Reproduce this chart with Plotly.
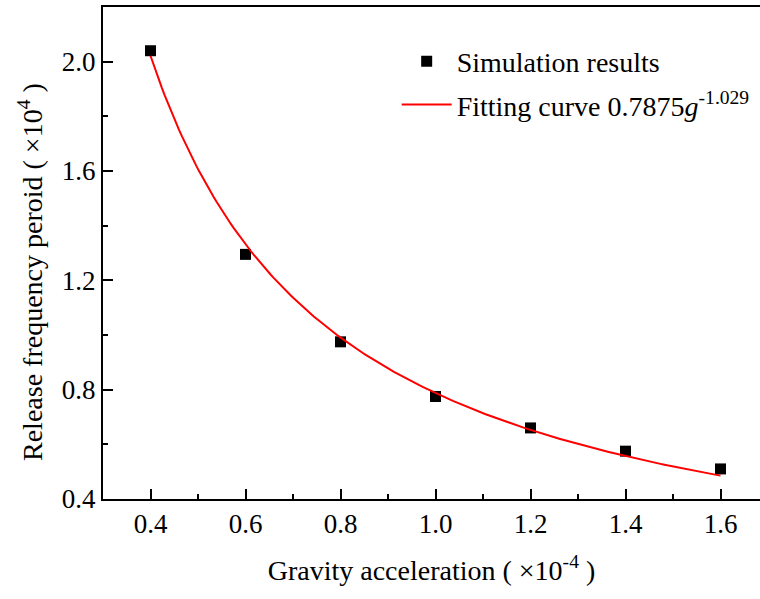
import numpy as np
import plotly.graph_objects as go

gravity = [0.4, 0.6, 0.8, 1.0, 1.2, 1.4, 1.6]
period = [2.04, 1.295, 0.975, 0.775, 0.66, 0.575, 0.51]
fit_coef = 0.7875
fit_exp = -1.029

g_fit = np.linspace(0.4, 1.6, 200)
p_fit = fit_coef * g_fit ** fit_exp

FONT = "Liberation Serif, Times New Roman, serif"
TICK_FS = 27
XT_FS = 28
YT_FS = 28
LEG_FS = 28

fig = go.Figure()
fig.add_trace(go.Scatter(
    x=gravity, y=period, mode="markers", name="Simulation results",
    marker=dict(symbol="square", size=11, color="black"),
    legendgroup="a",
))
fig.add_trace(go.Scatter(
    x=g_fit, y=p_fit, mode="lines",
    name="Fitting curve 0.7875<i>g</i><sup>-1.029</sup>",
    line=dict(color="#ff0000", width=2),
    legendgroup="b",
))

axis_common = dict(
    showline=True, linecolor="black", linewidth=2,
    ticks="inside", ticklen=10, tickwidth=2, tickcolor="black",
    showgrid=False, zeroline=False,
    tickfont=dict(family=FONT, size=TICK_FS, color="black"),
)

fig.update_layout(
    width=760, height=599,
    margin=dict(l=103, r=0, t=7, b=100),
    paper_bgcolor="white", plot_bgcolor="white",
    font=dict(family=FONT, size=TICK_FS, color="black"),
    xaxis=dict(
        range=[0.3, 0.3 + 657 / 475], tickvals=[0.4, 0.6, 0.8, 1.0, 1.2, 1.4, 1.6],
        ticktext=["0.4", "0.6", "0.8", "1.0", "1.2", "1.4", "1.6"],
        mirror=True,
        minor=dict(ticks="inside", ticklen=5, tickwidth=2, tickcolor="black",
                   tickvals=[0.5, 0.7, 0.9, 1.1, 1.3, 1.5]),
        title=dict(text="Gravity acceleration ( ×10<sup>-4</sup> )",
                   font=dict(family=FONT, size=XT_FS), standoff=22),
        **axis_common,
    ),
    yaxis=dict(
        range=[0.4, 2.2], tickvals=[0.4, 0.8, 1.2, 1.6, 2.0],
        ticktext=["0.4", "0.8", "1.2", "1.6", "2.0"],
        mirror=False,
        minor=dict(ticks="inside", ticklen=5, tickwidth=2, tickcolor="black",
                   tickvals=[0.6, 1.0, 1.4, 1.8, 2.2]),
        **axis_common,
    ),
    annotations=[dict(
        text="Release frequency peroid ( ×10<sup>4</sup> )",
        xref="paper", yref="paper", x=(30 - 103) / 657, y=1 - (272 - 7) / 492,
        xanchor="center", yanchor="middle", textangle=-90, showarrow=False,
        font=dict(family=FONT, size=YT_FS, color="black"),
    )],
    legend=dict(
        x=0.447, y=0.94, xanchor="left", yanchor="top",
        bgcolor="rgba(0,0,0,0)", borderwidth=0,
        font=dict(family=FONT, size=LEG_FS, color="black"),
        itemwidth=50, tracegroupgap=4, traceorder="grouped",
    ),
    showlegend=True,
)

fig.write_html("out.html")
